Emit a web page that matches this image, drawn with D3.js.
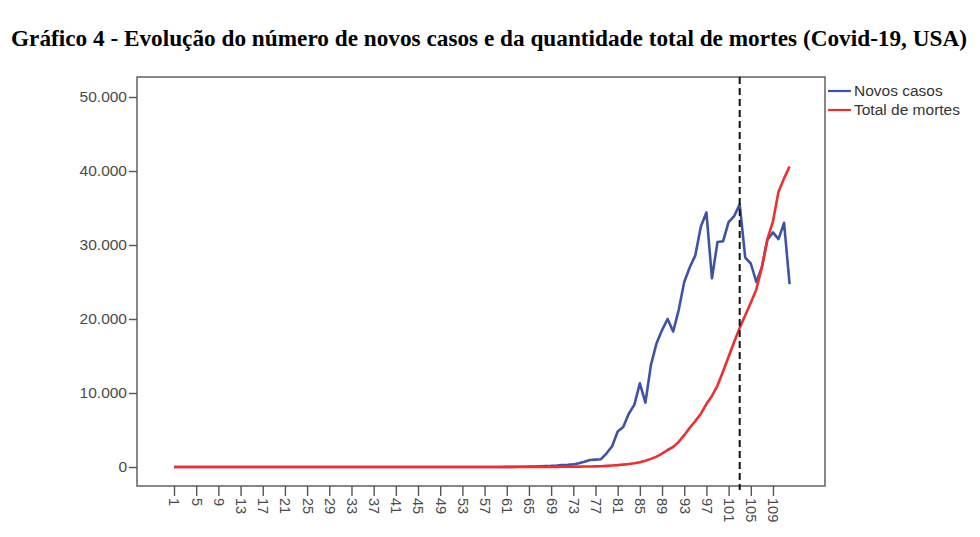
<!DOCTYPE html>
<html>
<head>
<meta charset="utf-8">
<script src="https://cdn.jsdelivr.net/npm/d3@7"></script>
<style>
  html, body { margin: 0; padding: 0; background: #fff; }
  svg { display: block; }
</style>
</head>
<body>
<script>
const titleText = "Gráfico 4 - Evolução do número de novos casos e da quantidade total de mortes (Covid-19, USA)";
const seriesNames = ["Novos casos", "Total de mortes"];
const categories = d3.range(1, 113);
const xTickLabels = [1,5,9,13,17,21,25,29,33,37,41,45,49,53,57,61,65,69,73,77,81,85,89,93,97,101,105,109];
const yTickValues = [0,10000,20000,30000,40000,50000];
const markerCategory = 103;

const novosCasos = [
  0,0,0,0,0,0,0,0,0,0,
  0,0,0,0,0,0,0,0,0,0,
  0,1,0,0,1,0,0,0,0,1,
  0,1,0,1,0,1,0,0,0,1,
  0,0,0,0,1,0,0,0,0,0,
  0,0,0,0,0,0,1,0,5,10,
  15,20,30,40,60,70,100,130,150,200,
  270,300,350,500,700,950,1000,1050,1850,2800,
  4800,5400,7200,8400,11300,8700,13800,16700,18500,20000,
  18300,21200,25000,27000,28600,32500,34400,25500,30400,30500,
  33100,33900,35500,28300,27500,25000,27000,30700,31700,30800,33000,24700
];
const totalMortes = [
  0,0,0,0,0,0,0,0,0,0,
  0,0,0,0,0,0,0,0,0,0,
  0,0,0,0,0,0,0,0,0,0,
  0,0,0,0,0,0,0,0,0,0,
  0,0,0,0,0,0,0,0,0,0,
  0,0,0,0,0,0,0,0,0,0,
  1,2,5,6,9,11,12,15,19,22,
  26,30,40,57,60,70,90,110,150,200,
  250,320,400,500,650,850,1100,1400,1800,2300,
  2700,3400,4300,5300,6200,7200,8500,9600,11000,12900,
  14900,16900,18800,20500,22200,24000,27000,30800,33200,37200,39000,40600
];
const seriesColors = ["#3d54a6", "#ee2f2f"];

const W = 980, H = 537;
const frame = {left: 137, right: 825, top: 77, bottom: 486};

const svg = d3.select("body").append("svg").attr("width", W).attr("height", H);

// Title
svg.append("text")
  .attr("x", 489).attr("y", 46)
  .attr("text-anchor", "middle")
  .attr("font-family", "'Liberation Serif', 'Times New Roman', serif")
  .attr("font-weight", "bold")
  .attr("font-size", 22.5)
  .attr("fill", "#000")
  .attr("textLength", 956)
  .attr("lengthAdjust", "spacingAndGlyphs")
  .text(titleText);

const x = d3.scalePoint().domain(categories).range([174, 789.6]);
const y = d3.scaleLinear().domain([0, 50000]).range([467, 97]);

// Plot frame
svg.append("rect")
  .attr("x", frame.left).attr("y", frame.top)
  .attr("width", frame.right - frame.left).attr("height", frame.bottom - frame.top)
  .attr("fill", "#fff").attr("stroke", "#555").attr("stroke-width", 1.4);

// Y axis
const yAxis = d3.axisLeft(y).tickValues(yTickValues).tickSize(8).tickPadding(2)
  .tickFormat(d => d3.format(",")(d).replace(/,/g, "."));
const gy = svg.append("g").attr("transform", `translate(${frame.left},0)`).call(yAxis);
gy.select(".domain").remove();
gy.selectAll(".tick line").attr("stroke", "#555").attr("stroke-width", 1.4);
gy.selectAll(".tick text")
  .attr("font-family", "'Liberation Sans', Arial, sans-serif")
  .attr("font-size", 15.5).attr("fill", "#4a4a4a");

// X axis
const xAxis = d3.axisBottom(x).tickValues(xTickLabels).tickSize(10).tickPadding(3);
const gx = svg.append("g").attr("transform", `translate(0,${frame.bottom})`).call(xAxis);
gx.select(".domain").remove();
gx.selectAll(".tick line").attr("stroke", "#555").attr("stroke-width", 1.4);
gx.selectAll(".tick text")
  .attr("font-family", "'Liberation Sans', Arial, sans-serif")
  .attr("font-size", 14.5).attr("fill", "#4a4a4a")
  .attr("transform", "rotate(90)")
  .attr("x", 12).attr("y", 0).attr("dy", "0.35em")
  .attr("text-anchor", "start");

// Lines
const line = d3.line().x((d, i) => x(categories[i])).y(d => y(d));
[novosCasos, totalMortes].forEach((s, k) => {
  svg.append("path").datum(s)
    .attr("d", line)
    .attr("fill", "none")
    .attr("stroke", seriesColors[k])
    .attr("stroke-width", 2.6)
    .attr("stroke-linejoin", "round");
});

// Dashed reference line
svg.append("line")
  .attr("x1", x(markerCategory)).attr("x2", x(markerCategory))
  .attr("y1", frame.top).attr("y2", frame.bottom + 4)
  .attr("stroke", "#111").attr("stroke-width", 2)
  .attr("stroke-dasharray", "7,4");

// Legend
const legend = svg.append("g");
seriesNames.forEach((name, k) => {
  const ly = 91 + k * 19;
  legend.append("line")
    .attr("x1", 828).attr("x2", 851).attr("y1", ly).attr("y2", ly)
    .attr("stroke", seriesColors[k]).attr("stroke-width", 2.2);
  legend.append("text")
    .attr("x", 854).attr("y", ly).attr("dy", "0.35em")
    .attr("font-family", "'Liberation Sans', Arial, sans-serif")
    .attr("font-size", 15.5).attr("fill", "#333")
    .text(name);
});
</script>
</body>
</html>
